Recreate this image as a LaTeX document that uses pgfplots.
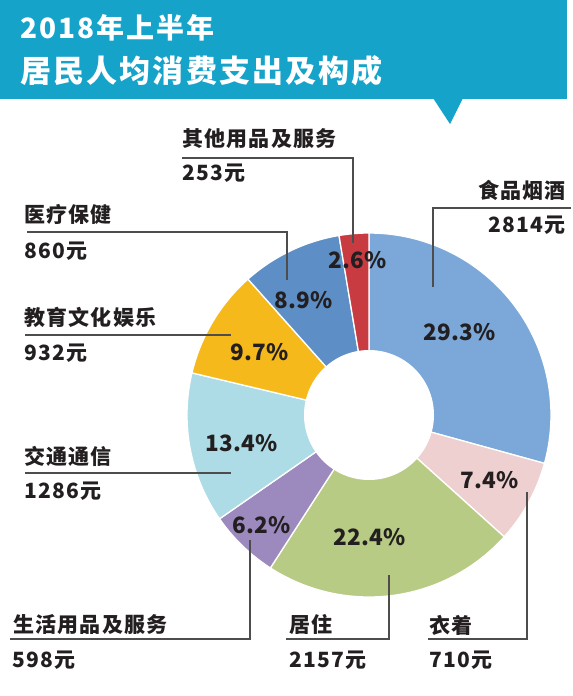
\documentclass[border=0pt]{standalone}
\usepackage{pgfplots}
\pgfplotsset{compat=1.18}
\usepackage{pgfplotstable}
\usepackage{fontspec}
\setmainfont{Noto Sans CJK SC}
\newfontfamily\lab{Noto Sans CJK SC}[LetterSpace=6]
\newfontfamily\pcf{Noto Sans CJK SC}[LetterSpace=1]
\newfontfamily\ttl{Noto Sans CJK SC}[LetterSpace=7]
\definecolor{ban}{HTML}{16A3CA}
\definecolor{cfood}{HTML}{7BA8D8}
\definecolor{ccloth}{HTML}{EED0D0}
\definecolor{chouse}{HTML}{B7CB84}
\definecolor{cdaily}{HTML}{9C8ABF}
\definecolor{ctrans}{HTML}{AEDCE6}
\definecolor{cedu}{HTML}{F5B91C}
\definecolor{cmed}{HTML}{5D8FC6}
\definecolor{coth}{HTML}{C73B41}
\definecolor{txt}{HTML}{231F20}
\definecolor{lin}{HTML}{4D4D4D}
\pgfplotstableread{
idx value
0 2814
1 710
2 2157
3 598
4 1286
5 932
6 860
7 253
}\data
\newcommand\A[1]{\csname aa#1\endcsname}
\newcommand\pct[1]{\pgfmathprintnumber[fixed,precision=1,fixed zerofill,assume math mode=true]{\csname pp#1\endcsname}\%}
\newcommand\donutslice[3]{%
  \addplot[fill=#3, draw=white, line width=1.3pt, line join=round, domain=#2:#1, samples=90]
    ({369+182*cos(x)},{415-182*sin(x)}) -- (369,415) -- cycle;}
\begin{document}
\xdef\total{0}%
\foreach \i in {0,...,7}{\pgfplotstablegetelem{\i}{value}\of\data
  \pgfmathsetmacro\tmpv{\total+\pgfplotsretval}\xdef\total{\tmpv}}%
\xdef\cum{0}%
\expandafter\xdef\csname aa0\endcsname{90}%
\foreach \i [evaluate=\i as \j using int(\i+1)] in {0,...,7}{%
  \pgfplotstablegetelem{\i}{value}\of\data
  \pgfmathsetmacro\tmpp{100*(\pgfplotsretval/\total)}%
  \expandafter\xdef\csname pp\i\endcsname{\tmpp}%
  \pgfmathsetmacro\tmpv{\cum+\pgfplotsretval}\xdef\cum{\tmpv}%
  \pgfmathsetmacro\tmpa{90-360*(\cum/\total)}%
  \expandafter\xdef\csname aa\j\endcsname{\tmpa}}%
\begin{tikzpicture}
\begin{axis}[width=571pt, height=696pt, scale only axis, xmin=0, xmax=571, ymin=0, ymax=696,
  y dir=reverse, hide axis, clip=false]
\fill[white] (0,0) rectangle (571,696);
% banner
\fill[ban] (0,0) rectangle (567,99);
\fill[ban] (433,98) -- (463,98) -- (450,124) -- cycle;
\node[anchor=west, inner sep=0, text=white] at (20,28) {\ttl\bfseries\fontsize{28}{30}\selectfont 2018年上半年};
\node[anchor=west, inner sep=0, text=white] at (20,71) {\ttl\bfseries\fontsize{31}{33}\selectfont 居民人均消费支出及构成};
% donut
\donutslice{\A0}{\A1}{cfood}
\donutslice{\A1}{\A2}{ccloth}
\donutslice{\A2}{\A3}{chouse}
\donutslice{\A3}{\A4}{cdaily}
\donutslice{\A4}{\A5}{ctrans}
\donutslice{\A5}{\A6}{cedu}
\donutslice{\A6}{\A7}{cmed}
\donutslice{\A7}{\A8}{coth}
\addplot[fill=white, draw=none, domain=0:360, samples=120] ({369+65*cos(x)},{415-65*sin(x)});
% leader lines
\begin{scope}[lin, line width=2.4pt]
\draw (182,158) -| (353,243);
\draw (571,208) -| (433,287);
\draw (27,232) -| (287,280);
\draw (25,335) -- (231,335);
\draw (25,473) -- (231,473);
\draw (10,639) -| (250,540);
\draw (286,639) -| (389,575);
\draw (428,639) -| (527,492);
\end{scope}
% percentages
\begin{scope}[every node/.style={inner sep=0, text=txt, font=\pcf\bfseries\fontsize{22.5}{24}\selectfont}]
\node at (460,332) {\pct0};
\node at (490,480) {\pct1};
\node at (370,537) {\pct2};
\node at (262,525) {\pct3};
\node at (242,443) {\pct4};
\node at (260,352) {\pct5};
\node at (304,300) {\pct6};
\node at (358,260) {\pct7};
\end{scope}
% category labels
\begin{scope}[every node/.style={inner sep=0, text=txt, font=\lab\bfseries\fontsize{21}{23}\selectfont}]
\node[anchor=west] at (182,139) {其他用品及服务};
\node[anchor=west] at (182,173) {253元};
\node[anchor=east] at (566,190) {食品烟酒};
\node[anchor=east] at (566,225) {2814元};
\node[anchor=west] at (24,214) {医疗保健};
\node[anchor=west] at (24,251) {860元};
\node[anchor=west] at (24,317) {教育文化娱乐};
\node[anchor=west] at (24,353) {932元};
\node[anchor=west] at (24,456) {交通通信};
\node[anchor=west] at (24,491) {1286元};
\node[anchor=west] at (13,625) {生活用品及服务};
\node[anchor=west] at (12,660) {598元};
\node[anchor=west] at (289,625) {居住};
\node[anchor=west] at (289,660) {2157元};
\node[anchor=west] at (429,625) {衣着};
\node[anchor=west] at (429,660) {710元};
\end{scope}
\end{axis}
\end{tikzpicture}
\end{document}
